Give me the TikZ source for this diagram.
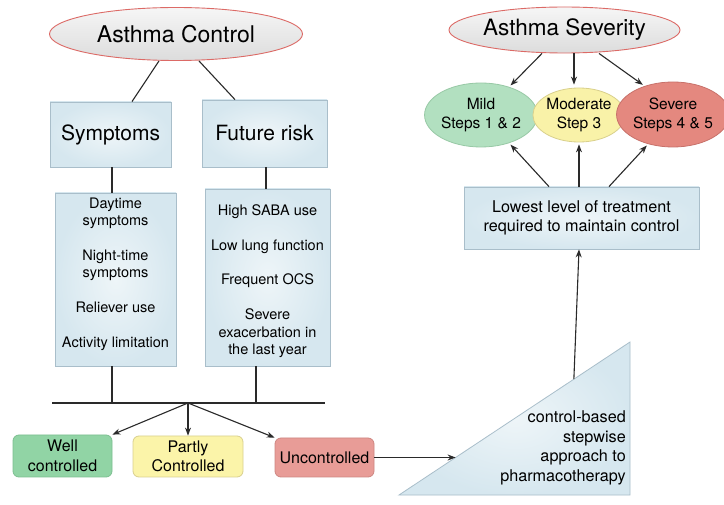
\documentclass[tikz,border=0pt]{standalone}
\usepackage{fontspec}
\setmainfont{TeX Gyre Heros}
\usetikzlibrary{shapes.geometric,arrows.meta,calc}
\definecolor{boxin}{HTML}{EEF5F8}
\definecolor{boxout}{HTML}{D6E7EF}
\definecolor{boxline}{HTML}{A9BECA}
\definecolor{titleline}{HTML}{DC6A66}
\definecolor{titletop}{HTML}{F6F6F6}
\definecolor{titlebot}{HTML}{DCDCDC}
\definecolor{linec}{HTML}{2A2A2A}
\definecolor{mildc}{HTML}{B2E0C0}
\definecolor{mildl}{HTML}{98C9A6}
\definecolor{modc}{HTML}{F9F2A8}
\definecolor{modl}{HTML}{D9D08C}
\definecolor{sevc}{HTML}{E4887F}
\definecolor{sevl}{HTML}{C8716A}
\definecolor{wellc}{HTML}{91D4A5}
\definecolor{welll}{HTML}{7CBF90}
\definecolor{partc}{HTML}{FBF4A9}
\definecolor{partl}{HTML}{D9D08E}
\definecolor{uncc}{HTML}{E89C97}
\definecolor{uncl}{HTML}{CE8681}
\begin{document}
\begin{tikzpicture}[x=1pt,y=-1pt,
  conn/.style={draw=linec, line width=1.1pt},
  arr/.style={conn, -{Stealth[length=8pt,width=6pt]}},
  bluebox/.style={rectangle, draw=boxline, line width=0.8pt, inner color=boxin, outer color=boxout, inner sep=0pt},
  titleell/.style={ellipse, draw=titleline, line width=0.9pt, top color=titletop, bottom color=titlebot, inner sep=0pt},
  sevell/.style={ellipse, line width=0.8pt, inner sep=0pt, align=center, font=\fontsize{15.5}{19}\selectfont},
  status/.style={rectangle, rounded corners=6pt, line width=0.8pt, inner sep=0pt, align=center, font=\fontsize{16}{19.5}\selectfont},
  head/.style={font=\fontsize{21}{24}\selectfont},
  listtext/.style={align=center, font=\fontsize{14.5}{17.4}\selectfont, inner sep=0pt}
]
\useasboundingbox[fill=white] (0,0) rectangle (724,505);

% Asthma Control side
\node[titleell, minimum width=253pt, minimum height=53pt, font=\fontsize{23}{27}\selectfont] (ac) at (176,34) {Asthma Control};
\node[bluebox, head, minimum width=121pt, minimum height=65pt] (sym) at (110.5,134.5) {Symptoms};
\node[bluebox, head, minimum width=125pt, minimum height=67pt] (fut) at (264.5,133.5) {Future risk};
\node[bluebox, minimum width=121pt, minimum height=173pt] (symlist) at (115.5,279.5) {};
\node[bluebox, minimum width=125pt, minimum height=177pt] (futlist) at (267.5,277.5) {};
\node[listtext] (symtxt) at (115.5,274) {Daytime\\symptoms\\[17.4pt]Night-time\\symptoms\\[17.4pt]Reliever use\\[17.4pt]Activity limitation};
\node[listtext] (futtxt) at (267.5,281) {High SABA use\\[17.4pt]Low lung function\\[17.4pt]Frequent OCS\\[17.4pt]Severe\\exacerbation in\\the last year};

\draw[conn] ([xshift=-17pt]ac.south) -- ([xshift=21.5pt]sym.north);
\draw[conn] ([xshift=23pt]ac.south) -- ([xshift=-29.5pt]fut.north);
\draw[conn] ([xshift=1.5pt]sym.south) -- ([xshift=1.5pt]sym.south |- symlist.north);
\draw[conn] ([xshift=1.5pt]fut.south) -- ([xshift=1.5pt]fut.south |- futlist.north);

\coordinate (bl) at (52,403);
\coordinate (br) at (325,403);
\coordinate (bm) at (188,403);
\draw[conn] (bl) -- (br);
\draw[conn] ([xshift=-3.5pt]symlist.south) -- ([xshift=-3.5pt]symlist.south |- bm);
\draw[conn] ([xshift=-11.5pt]futlist.south) -- ([xshift=-11.5pt]futlist.south |- bm);

\node[status, draw=welll, fill=wellc, minimum width=99pt, minimum height=42pt] (well) at (62.5,456) {Well\\controlled};
\node[status, draw=partl, fill=partc, minimum width=110pt, minimum height=41pt] (part) at (188,456.5) {Partly\\Controlled};
\node[status, draw=uncl, fill=uncc, minimum width=99pt, minimum height=39pt] (unc) at (324.5,457.5) {Uncontrolled};

\draw[arr] (bm) -- (well.north east);
\draw[arr] (bm) -- (part.north);
\draw[arr] (bm) -- (unc.north west);

% triangle
\coordinate (tA) at (399,495);
\coordinate (tB) at (630,495);
\coordinate (tC) at (630,342);
\draw[draw=boxline, line width=0.8pt, inner color=boxin, outer color=boxout] (tA) -- (tB) -- (tC) -- cycle;
\node[align=right, anchor=east, inner sep=0pt, font=\fontsize{16.2}{19.5}\selectfont] (tritxt) at (626,448) {control-based\\stepwise\\approach to\\pharmacotherapy};
\coordinate (hypU) at ($(tA)!0.245!(tC)$);
\coordinate (hypL) at ($(tA)!0.757!(tC)$);
\draw[arr] (unc.east) -- (unc.east -| hypU);

% Asthma Severity side
\node[bluebox, minimum width=235pt, minimum height=62pt, align=center, font=\fontsize{16.2}{19.3}\selectfont] (low) at (581.5,218) {Lowest level of treatment\\required to maintain control};
\draw[arr] (hypL) -- ([xshift=-2.5pt]low.south);

\node[titleell, minimum width=231pt, minimum height=46pt, font=\fontsize{22.5}{26}\selectfont] (as) at (564.5,30) {Asthma Severity};
\node[sevell, draw=mildl, fill=mildc, minimum width=104pt, minimum height=64pt] (mild) at (481,115) {Mild\\Steps 1 \& 2};
\node[sevell, draw=modl, fill=modc, minimum width=92pt, minimum height=54pt] (mod) at (579,115) {Moderate\\Step 3};
\node[sevell, draw=sevl, fill=sevc, minimum width=96pt, minimum height=65pt] (sev) at (673,114.5) {Severe\\Steps 4 \& 5};

\draw[arr, shorten >=2pt] ([xshift=-22.5pt]as.south) -- (mild.45);
\draw[arr, shorten >=3pt] ([xshift=9.5pt]as.south) -- ([xshift=9.5pt]as.south |- mod.north);
\draw[arr, shorten >=2pt] ([xshift=34.5pt]as.south) -- (sev.135);

\draw[arr, shorten >=2pt] ([xshift=-32.5pt]low.north) -- (mild.-45);
\draw[arr, shorten >=2pt] (mod.south |- low.north) -- (mod.south);
\draw[arr, shorten >=2pt] ([xshift=27.5pt]low.north) -- (sev.-130);
\end{tikzpicture}
\end{document}
